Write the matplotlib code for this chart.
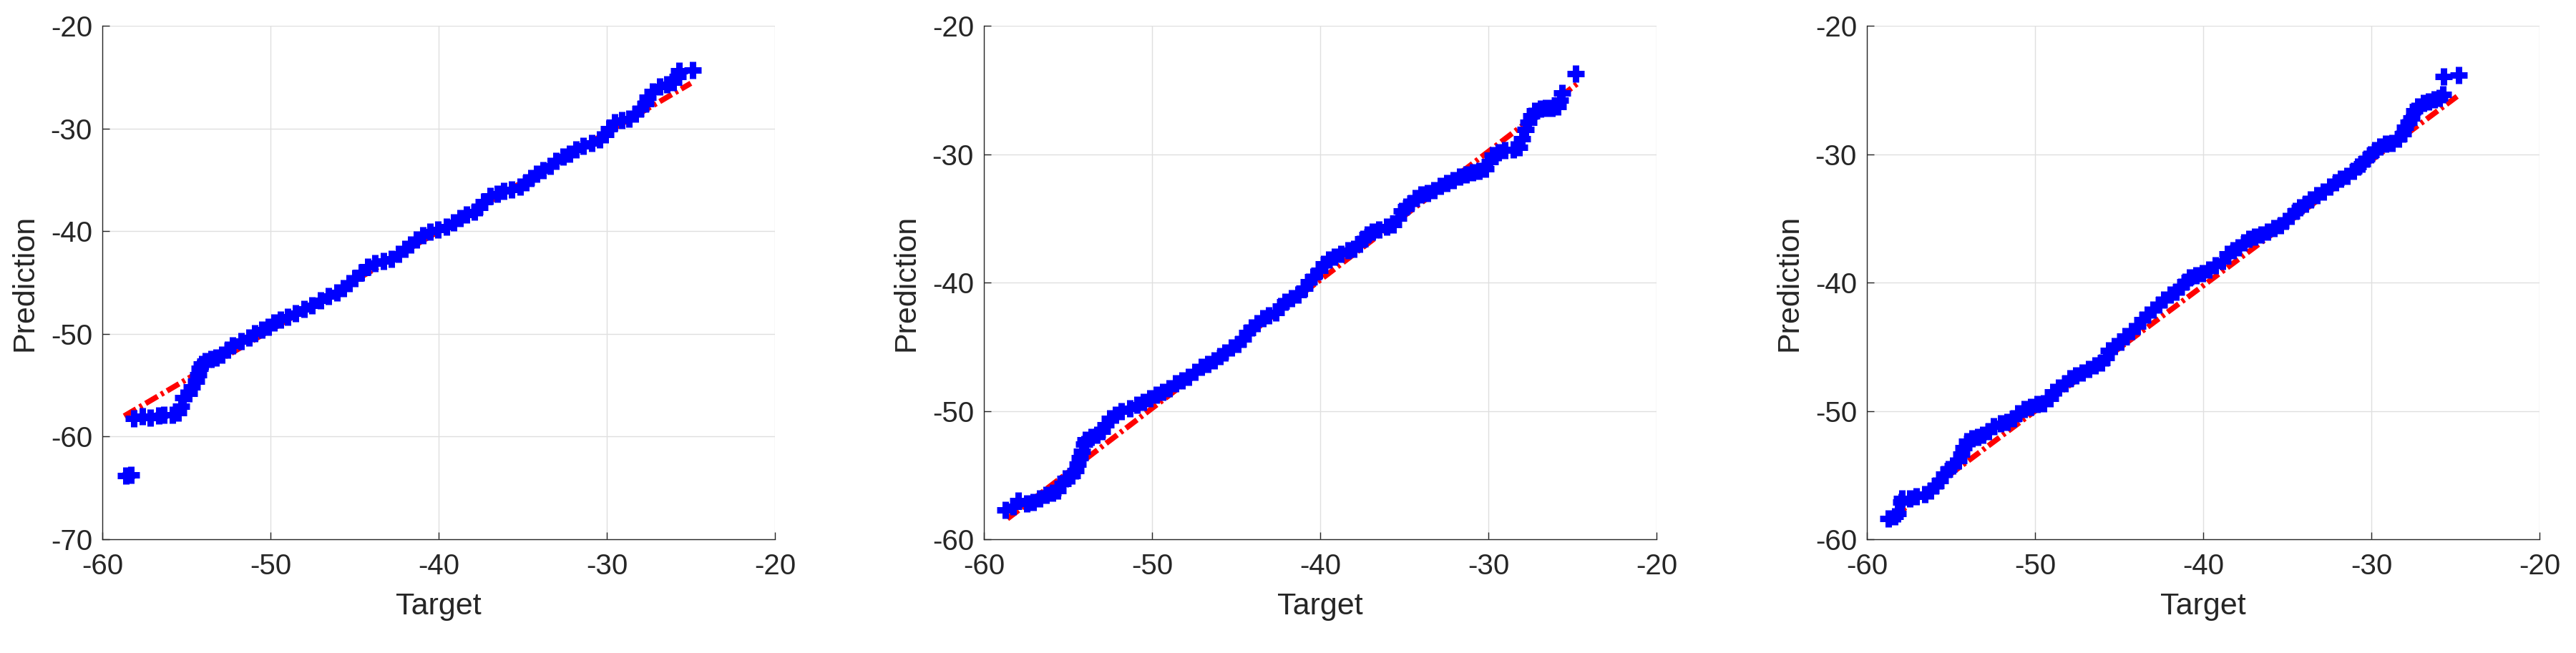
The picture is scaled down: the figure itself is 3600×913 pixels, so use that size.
import numpy as np
import matplotlib
matplotlib.use("Agg")
import matplotlib.pyplot as plt

plt.rcParams['font.family'] = ['Liberation Sans', 'DejaVu Sans']
plt.rcParams['axes.unicode_minus'] = False
plt.rcParams['lines.scale_dashes'] = False

# --- panel 1 (target vs prediction quantiles) ---
x1 = [-58.6, -58.3, -58.11, -57.62, -57.13, -56.64, -56.32, -55.83, -55.50, -55.34,
      -55.18, -54.85, -54.69, -54.43, -54.30, -54.20, -54.10, -53.88, -53.55, -53.22,
      -52.90, -52.57, -52.25, -51.76, -51.27, -50.94, -50.52, -50.13, -49.80, -49.41,
      -48.99, -48.50, -48.01, -47.52, -47.04, -46.55, -46.06, -45.64, -45.31, -44.98,
      -44.59, -44.20, -43.78, -43.29, -42.80, -42.38, -41.99, -41.66, -41.34, -40.94,
      -40.52, -40.03, -39.54, -39.12, -38.73, -38.34, -37.88, -37.56, -37.30, -36.94,
      -36.51, -36.12, -35.64, -35.15, -34.82, -34.50, -34.17, -33.78, -33.36, -33.03,
      -32.61, -32.21, -31.82, -31.40, -30.91, -30.42, -30.10, -29.87, -29.54, -29.12,
      -28.70, -28.31, -27.98, -27.72, -27.56, -27.26, -26.84, -26.42, -26.03, -25.77,
      -25.70, -24.89]
y1 = [-63.8, -63.7, -58.25, -58.05, -58.17, -57.97, -57.85, -57.85, -57.64, -57.03,
      -56.22, -55.81, -55.20, -54.59, -53.98, -53.37, -52.97, -52.68, -52.44, -52.28,
      -52.03, -51.54, -51.14, -50.73, -50.33, -49.92, -49.59, -49.31, -48.90, -48.62,
      -48.37, -47.97, -47.56, -47.20, -46.75, -46.34, -45.98, -45.57, -45.04, -44.55,
      -44.02, -43.50, -43.09, -42.89, -42.68, -42.20, -41.71, -41.30, -40.81, -40.41,
      -40.08, -39.84, -39.55, -39.15, -38.70, -38.37, -38.13, -37.72, -37.11, -36.59,
      -36.34, -36.10, -35.98, -35.69, -35.28, -34.80, -34.39, -34.07, -33.66, -33.17,
      -32.76, -32.44, -32.03, -31.71, -31.42, -31.10, -30.61, -30.00, -29.39, -29.19,
      -29.02, -28.58, -28.05, -27.56, -26.95, -26.42, -25.93, -25.73, -25.53, -24.92,
      -24.39, -24.31]
ref1_x = [-58.7, -25.0]
ref1_y = [-58.0, -25.6]

# --- panel 2 ---
x2 = [-58.72, -58.26, -57.95, -57.44, -57.06, -56.67, -56.29, -55.90, -55.60, -55.34,
      -55.13, -54.75, -54.57, -54.42, -54.31, -54.16, -54.06, -53.96, -53.60, -53.29,
      -52.96, -52.78, -52.52, -52.19, -51.81, -51.34, -50.91, -50.52, -50.14, -49.76,
      -49.37, -48.99, -48.60, -48.22, -47.84, -47.45, -47.07, -46.68, -46.30, -45.97,
      -45.66, -45.28, -44.89, -44.58, -44.33, -44.07, -43.74, -43.41, -43.05, -42.64,
      -42.33, -42.07, -41.69, -41.31, -40.92, -40.67, -40.41, -40.03, -39.77, -39.51,
      -39.13, -38.75, -38.36, -37.98, -37.67, -37.46, -37.21, -36.90, -36.49, -36.06,
      -35.67, -35.36, -35.16, -34.90, -34.60, -34.34, -34.01, -33.62, -33.24, -32.86,
      -32.47, -32.09, -31.70, -31.32, -30.93, -30.55, -30.17, -29.91, -29.73, -29.40,
      -29.01, -28.50, -28.19, -27.99, -27.78, -27.61, -27.43, -27.22, -26.91, -26.58,
      -26.20, -25.89, -25.74, -25.63, -24.79]
y2 = [-57.72, -57.42, -57.01, -57.21, -57.08, -56.83, -56.57, -56.39, -56.19, -55.68,
      -55.29, -55.04, -54.65, -54.14, -53.63, -53.12, -52.61, -52.23, -52.05, -51.89,
      -51.59, -51.07, -50.56, -50.31, -50.05, -49.80, -49.54, -49.28, -49.03, -48.72,
      -48.52, -48.26, -47.88, -47.62, -47.37, -46.98, -46.60, -46.34, -46.09, -45.75,
      -45.45, -45.06, -44.81, -44.42, -43.91, -43.53, -43.15, -42.76, -42.58, -42.33,
      -41.82, -41.48, -41.23, -40.97, -40.46, -39.95, -39.57, -39.05, -38.54, -38.24,
      -37.98, -37.77, -37.52, -37.39, -37.01, -36.62, -36.24, -36.04, -35.86, -35.68,
      -35.47, -34.96, -34.45, -34.07, -33.81, -33.43, -33.17, -33.04, -32.79, -32.46,
      -32.23, -32.02, -31.76, -31.59, -31.43, -31.33, -31.13, -30.61, -30.10, -29.85,
      -29.72, -29.64, -29.46, -28.82, -28.06, -27.54, -27.03, -26.65, -26.45, -26.39,
      -26.39, -26.27, -25.81, -25.24, -23.71]
ref2_x = [-58.6, -24.7]
ref2_y = [-58.4, -24.5]

# --- panel 3 ---
x3 = [-58.72, -58.34, -58.16, -57.95, -57.90, -57.44, -57.06, -56.54, -56.21, -55.90,
      -55.65, -55.39, -55.13, -54.88, -54.57, -54.37, -54.24, -54.06, -53.73, -53.39,
      -53.09, -52.78, -52.45, -52.06, -51.68, -51.29, -51.04, -50.65, -50.27, -49.88,
      -49.50, -49.12, -48.94, -48.60, -48.22, -47.91, -47.58, -47.20, -46.81, -46.43,
      -46.04, -45.79, -45.61, -45.28, -44.89, -44.64, -44.25, -43.92, -43.61, -43.30,
      -42.97, -42.64, -42.33, -41.95, -41.61, -41.31, -41.05, -40.79, -40.41, -40.03,
      -39.64, -39.26, -38.87, -38.54, -38.23, -37.93, -37.59, -37.26, -36.95, -36.57,
      -36.18, -35.80, -35.42, -35.11, -34.78, -34.52, -34.26, -33.93, -33.62, -33.24,
      -32.86, -32.47, -32.14, -31.83, -31.45, -31.06, -30.81, -30.55, -30.29, -30.04,
      -29.78, -29.48, -29.14, -28.76, -28.37, -28.12, -27.99, -27.78, -27.61, -27.43,
      -27.22, -26.91, -26.58, -26.25, -25.94, -25.74, -25.69, -24.79]
y3 = [-58.36, -58.24, -57.98, -57.08, -56.83, -56.83, -56.65, -56.50, -56.19, -55.81,
      -55.42, -54.91, -54.53, -54.27, -53.89, -53.38, -52.86, -52.35, -52.15, -52.05,
      -51.84, -51.59, -51.20, -50.95, -50.87, -50.56, -50.18, -49.85, -49.67, -49.49,
      -49.41, -49.03, -48.52, -48.21, -47.88, -47.49, -47.24, -47.03, -46.73, -46.47,
      -46.22, -45.83, -45.32, -44.94, -44.63, -44.17, -43.79, -43.40, -42.89, -42.51,
      -42.12, -41.74, -41.36, -40.97, -40.72, -40.33, -39.95, -39.62, -39.44, -39.26,
      -39.00, -38.67, -38.34, -37.77, -37.52, -37.26, -36.88, -36.62, -36.45, -36.24,
      -36.04, -35.78, -35.52, -35.22, -34.83, -34.45, -34.14, -33.89, -33.55, -33.22,
      -32.92, -32.53, -32.20, -31.94, -31.69, -31.33, -31.00, -30.74, -30.36, -30.05,
      -29.72, -29.39, -29.21, -29.13, -28.82, -28.44, -27.93, -27.54, -27.16, -26.65,
      -26.27, -26.01, -25.88, -25.75, -25.63, -25.37, -23.96, -23.84]
ref3_x = [-58.7, -24.9]
ref3_y = [-58.5, -25.5]

panels = [
    (x1, y1, ref1_x, ref1_y, (-70, -20)),
    (x2, y2, ref2_x, ref2_y, (-60, -20)),
    (x3, y3, ref3_x, ref3_y, (-60, -20)),
]

txt = '#262626'
fig = plt.figure(figsize=(36, 9.13), dpi=100)
lefts = [143 / 3600, 1375 / 3600, 2609 / 3600]
for left, (xs, ys, rx, ry, ylim) in zip(lefts, panels):
    ax = fig.add_axes([left, 159 / 913, 940 / 3600, 718 / 913])
    # red reference line sits under the blue quantile markers
    ax.plot(rx, ry, color='#ff0000', linewidth=5.5, dashes=(14, 4, 3, 4), zorder=2)
    ax.plot(xs, ys, linestyle='none', marker='+', color='#0000ff',
            markersize=17, markeredgewidth=6.5, zorder=3)
    ax.set_xlim(-60, -20)
    ax.set_ylim(*ylim)
    ax.set_xticks(np.arange(-60, -19, 10))
    ax.set_yticks(np.arange(ylim[0], ylim[1] + 1, 10))
    ax.grid(True, color='#dfdfdf', linewidth=1.0)
    ax.set_axisbelow(True)
    for s in ['top', 'right']:
        ax.spines[s].set_visible(False)
    for s in ['left', 'bottom']:
        ax.spines[s].set_color(txt)
        ax.spines[s].set_linewidth(1.0)
    ax.tick_params(direction='in', length=7, width=1.0, colors=txt,
                   labelsize=29)
    ax.tick_params(axis='x', pad=14)
    ax.tick_params(axis='y', pad=10)
    ax.set_xlabel('Target', fontsize=31, color=txt, labelpad=12)
    ax.set_ylabel('Prediction', fontsize=31, color=txt, labelpad=12)

fig.savefig('out.png', dpi=100)
